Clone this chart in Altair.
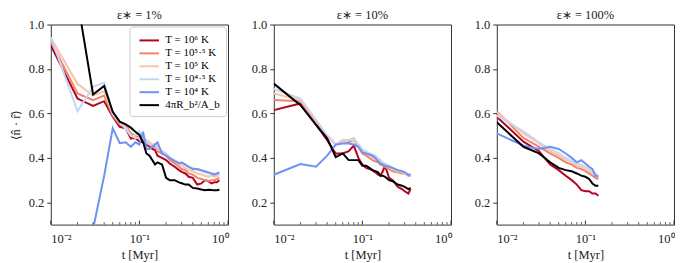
import altair as alt
import pandas as pd

series_labels = ["T = 10⁶ K", "T = 10⁵·⁵ K", "T = 10⁵ K", "T = 10⁴·⁵ K", "T = 10⁴ K", "4πR_b²/A_b"]
series_colors = ["#b40426", "#f08466", "#f7c5ae", "#c5d7f5", "#6f92f3", "#000000"]
panel_titles = ["ε∗ = 1%", "ε∗ = 10%", "ε∗ = 100%"]

x_major = [0.01, 0.1, 1.0]
x_minor = [0.02, 0.03, 0.04, 0.05, 0.06, 0.07, 0.08, 0.09,
           0.2, 0.3, 0.4, 0.5, 0.6, 0.7, 0.8, 0.9]
y_ticks = [0.2, 0.4, 0.6, 0.8, 1.0]

# ---- panel 1 : eps = 1% ----
t1 = [0.01, 0.02, 0.03, 0.04, 0.05, 0.06, 0.07, 0.08, 0.09, 0.10, 0.11, 0.12, 0.13, 0.14,
      0.15, 0.16, 0.18, 0.20, 0.22, 0.25, 0.28, 0.30, 0.33, 0.36, 0.40, 0.45, 0.50, 0.55,
      0.60, 0.65, 0.70, 0.75, 0.80]
p1_T60 = [0.906, 0.667, 0.634, 0.655, 0.585, 0.54, 0.533, 0.488, 0.49, 0.473, 0.47, 0.46, 0.45,
          0.44, 0.435, 0.41, 0.40, 0.39, 0.375, 0.36, 0.345, 0.337, 0.33, 0.315, 0.31, 0.28,
          0.285, 0.30, 0.295, 0.285, 0.29, 0.29, 0.30]
p1_T55 = [0.924, 0.69, 0.66, 0.68, 0.59, 0.55, 0.55, 0.51, 0.50, 0.49, 0.48, 0.47, 0.46, 0.45,
          0.45, 0.43, 0.42, 0.41, 0.39, 0.375, 0.36, 0.35, 0.345, 0.33, 0.325, 0.31, 0.305,
          0.30, 0.295, 0.30, 0.30, 0.305, 0.31]
p1_T50 = [0.94, 0.733, 0.68, 0.70, 0.60, 0.56, 0.54, 0.50, 0.49, 0.49, 0.49, 0.48, 0.47, 0.46,
          0.46, 0.44, 0.43, 0.42, 0.40, 0.385, 0.37, 0.365, 0.355, 0.345, 0.34, 0.33, 0.325,
          0.32, 0.315, 0.32, 0.315, 0.32, 0.32]
p1_T45 = [0.943, 0.61, 0.72, 0.739, 0.60, 0.56, 0.53, 0.50, 0.50, 0.52, 0.49, 0.47, 0.46, 0.46,
          0.46, 0.45, 0.43, 0.42, 0.40, 0.39, 0.38, 0.375, 0.37, 0.36, 0.355, 0.345, 0.34,
          0.335, 0.33, 0.33, 0.33, 0.325, 0.33]
p1_T40 = [None, None, 0.08, 0.32, 0.533, 0.466, 0.47, 0.45, 0.47, 0.46, 0.518, 0.44, 0.44, 0.45,
          0.46, 0.47, 0.42, 0.41, 0.40, 0.385, 0.375, 0.38, 0.37, 0.36, 0.35, 0.35, 0.345,
          0.34, 0.335, 0.33, 0.325, 0.33, 0.335]
p1_geo = [1.60, 1.11, 0.685, 0.724, 0.607, 0.563, 0.551, 0.536, 0.518, 0.503, 0.47, 0.42, 0.41,
          0.39, 0.37, 0.38, 0.37, 0.31, 0.30, 0.30, 0.29, 0.286, 0.28, 0.28, 0.265, 0.262,
          0.258, 0.255, 0.257, 0.256, 0.254, 0.255, 0.257]

# ---- panel 2 : eps = 10% ----
t2 = [0.01, 0.02, 0.03, 0.04, 0.05, 0.06, 0.07, 0.08, 0.09, 0.10, 0.11, 0.12, 0.13, 0.14,
      0.15, 0.16, 0.17, 0.18, 0.20, 0.22, 0.25, 0.28, 0.30, 0.33, 0.35]
p2_T60 = [0.615, 0.645, 0.55, 0.48, 0.42, 0.42, 0.43, 0.455, 0.40, 0.37, 0.355, 0.35, 0.345,
          0.335, 0.325, 0.32, 0.34, 0.365, 0.31, 0.30, 0.27, 0.26, 0.25, 0.24, 0.26]
p2_T55 = [0.66, 0.655, 0.56, 0.50, 0.46, 0.47, 0.47, 0.48, 0.45, 0.42, 0.41, 0.40, 0.39, 0.385,
          0.38, 0.37, 0.365, 0.36, 0.35, 0.34, 0.335, 0.33, 0.33, 0.32, 0.32]
p2_T50 = [0.69, 0.66, 0.57, 0.50, 0.46, 0.48, 0.48, 0.49, 0.46, 0.43, 0.42, 0.41, 0.40, 0.395,
          0.39, 0.38, 0.375, 0.37, 0.36, 0.35, 0.34, 0.335, 0.33, 0.325, 0.33]
p2_T45 = [0.71, 0.667, 0.57, 0.50, 0.46, 0.47, 0.48, 0.48, 0.46, 0.44, 0.43, 0.42, 0.415, 0.41,
          0.40, 0.39, 0.38, 0.375, 0.365, 0.355, 0.345, 0.34, 0.335, 0.325, 0.32]
p2_T40 = [0.324, 0.372, 0.36, 0.41, 0.46, 0.465, 0.465, 0.46, 0.45, 0.425, 0.42, 0.415, 0.41,
          0.40, 0.385, 0.375, 0.37, 0.365, 0.36, 0.355, 0.345, 0.34, 0.335, 0.325, 0.32]
p2_geo = [0.734, 0.637, 0.548, 0.488, 0.403, 0.42, 0.39, 0.39, 0.39, 0.365, 0.365, 0.355, 0.345,
          0.34, 0.335, 0.32, 0.32, 0.315, 0.30, 0.295, 0.28, 0.275, 0.27, 0.26, 0.265]

# ---- panel 3 : eps = 100% ----
t3 = [0.01, 0.02, 0.03, 0.04, 0.05, 0.06, 0.07, 0.08, 0.09, 0.10, 0.11, 0.12, 0.13, 0.14]
p3_T60 = [0.585, 0.473, 0.43, 0.37, 0.345, 0.32, 0.30, 0.28, 0.255, 0.25, 0.25, 0.24, 0.24, 0.23]
p3_T55 = [0.61, 0.49, 0.45, 0.42, 0.40, 0.38, 0.37, 0.355, 0.35, 0.34, 0.33, 0.32, 0.31, 0.305]
p3_T50 = [0.605, 0.51, 0.465, 0.43, 0.41, 0.39, 0.38, 0.365, 0.36, 0.35, 0.34, 0.33, 0.32, 0.315]
p3_T45 = [0.59, 0.52, 0.47, 0.44, 0.42, 0.40, 0.385, 0.375, 0.37, 0.36, 0.35, 0.34, 0.33, 0.32]
p3_T40 = [0.51, 0.455, 0.44, 0.45, 0.44, 0.42, 0.40, 0.38, 0.39, 0.375, 0.36, 0.35, 0.32, 0.315]
p3_geo = [0.56, 0.45, 0.42, 0.38, 0.355, 0.345, 0.34, 0.33, 0.32, 0.315, 0.305, 0.285, 0.275, 0.275]

panels = [
    (t1, [p1_T60, p1_T55, p1_T50, p1_T45, p1_T40, p1_geo]),
    (t2, [p2_T60, p2_T55, p2_T50, p2_T45, p2_T40, p2_geo]),
    (t3, [p3_T60, p3_T55, p3_T50, p3_T45, p3_T40, p3_geo]),
]

FONT = "Liberation Serif"
W, H = 178, 201


def make_df(t, series):
    rows = []
    for k, (lab, vals) in enumerate(zip(series_labels, series)):
        for tt, v in zip(t, vals):
            if v is not None:
                rows.append({"t": tt, "v": v, "series": lab, "k": k})
    return pd.DataFrame(rows)


def panel(i):
    t, series = panels[i]
    df = make_df(t, series)
    xscale = alt.Scale(type="log", domain=[0.01, 1.0], nice=False)
    xenc = alt.X("t:Q", scale=xscale,
                 axis=alt.Axis(values=x_major, ticks=False, domain=False, grid=False,
                               labelExpr="datum.value < 0.05 ? '10⁻²' : (datum.value < 0.5 ? '10⁻¹' : '10⁰')",
                               labelPadding=8, title="t [Myr]", titlePadding=4))
    yenc = alt.Y("v:Q", scale=alt.Scale(domain=[0.1, 1.0], nice=False, zero=False),
                 axis=alt.Axis(values=y_ticks, format=".1f", domain=False, grid=False,
                               tickSize=4, labelPadding=3,
                               title="⟨n̂ · r̂⟩" if i == 0 else None, titlePadding=6))
    if i == 0:
        legend = alt.Legend(orient="top-right", title=None, offset=2, fillColor="white",
                            strokeColor="#cccccc", cornerRadius=3, padding=6,
                            symbolType="M-0.6,0H2.4", symbolStrokeWidth=2, symbolSize=170,
                            symbolFillColor="transparent",
                            labelFont=FONT, labelFontSize=11, rowPadding=0, labelOffset=14)
    else:
        legend = None
    lines = alt.Chart(df).mark_line(clip=True, strokeWidth=2).encode(
        x=xenc, y=yenc,
        color=alt.Color("series:N", scale=alt.Scale(domain=series_labels, range=series_colors),
                        sort=series_labels, legend=legend),
        order=alt.Order("t:Q"),
    )
    major = alt.Chart(pd.DataFrame({"t": x_major})).mark_rule(color="#333333", strokeWidth=1).encode(
        x=xenc, y=alt.value(H), y2=alt.value(H - 4))
    minor = alt.Chart(pd.DataFrame({"t": x_minor})).mark_rule(color="#333333", strokeWidth=0.8).encode(
        x=xenc, y=alt.value(H), y2=alt.value(H - 2.5))
    title = alt.Chart(pd.DataFrame({"title": [panel_titles[i]]})).mark_text(
        font=FONT, fontSize=12.5, baseline="bottom", align="center", color="#222222"
    ).encode(text="title:N", x=alt.value(W / 2), y=alt.value(-2.5))
    return alt.layer(lines, major, minor, title).properties(width=W, height=H)


chart = alt.hconcat(panel(0), panel(1), panel(2), spacing=21).resolve_legend(
    color="independent"
).configure_view(stroke="#333333", strokeWidth=1).configure_axis(
    labelFont=FONT, labelFontSize=12.5, titleFont=FONT, titleFontSize=12.5,
    titleFontWeight="normal", tickColor="#333333", labelColor="#222222", titleColor="#222222"
).properties(padding=0)

chart.save("out.html", embed_options={"renderer": "svg", "actions": False})
